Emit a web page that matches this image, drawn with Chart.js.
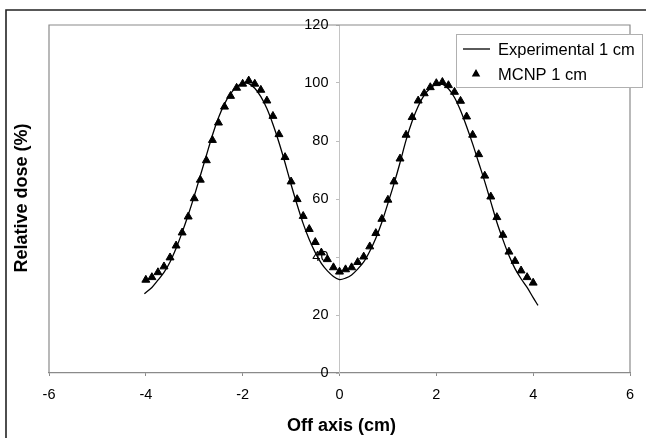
<!DOCTYPE html>
<html>
<head>
  <title>Relative dose profile</title>
  <style>
    html, body { margin: 0; padding: 0; background: #fff; }
    .chart-container { position: relative; width: 646px; height: 438px; }
  </style>
</head>
<body>
  <div class="chart-container">
    <canvas id="doseChart" width="646" height="438"></canvas>
  </div>

  <script src="https://cdn.jsdelivr.net/npm/chart.js"></script>
  <script>
    // data
    const seriesNames = ['Experimental 1 cm', 'MCNP 1 cm'];
    const xTitle = 'Off axis (cm)';
    const yTitle = 'Relative dose (%)';

    const expX = [-4.03, -3.875, -3.75, -3.625, -3.5, -3.375, -3.25, -3.125, -3, -2.875, -2.75, -2.625, -2.5,
      -2.375, -2.25, -2.125, -2, -1.875, -1.75, -1.625, -1.5, -1.375, -1.25, -1.125, -1, -0.875, -0.75, -0.625,
      -0.5, -0.375, -0.25, -0.125, 0, 0.125, 0.25, 0.375, 0.5, 0.625, 0.75, 0.875, 1, 1.125, 1.25, 1.375, 1.5,
      1.625, 1.75, 1.875, 2, 2.125, 2.25, 2.375, 2.5, 2.625, 2.75, 2.875, 3, 3.125, 3.25, 3.375, 3.5, 3.625,
      3.75, 3.875, 4, 4.1];
    const expY = [27.3, 29.5, 32, 34.7, 38.3, 43, 48.5, 54.5, 61, 68, 75, 82, 88, 92.8, 96.3, 98.7, 99.9, 99.8,
      98.2, 95.3, 91.2, 85.8, 79.5, 72.5, 65, 58, 51.5, 46, 41.5, 37.8, 35.2, 33.3, 32.2, 32.7, 33.8, 35.8, 38.3,
      42, 46.5, 52, 58.5, 65.2, 72.5, 80.3, 86.8, 92, 95.8, 98.2, 99.6, 99.6, 98, 95, 90.5, 85, 79, 72.5, 66,
      59, 52, 46, 40.5, 36, 32.5, 29.5, 26, 23.3];

    const mcnpX = [-4, -3.875, -3.75, -3.625, -3.5, -3.375, -3.25, -3.125, -3, -2.875, -2.75, -2.625, -2.5,
      -2.375, -2.25, -2.125, -2, -1.875, -1.75, -1.625, -1.5, -1.375, -1.25, -1.125, -1, -0.875, -0.75, -0.625,
      -0.5, -0.375, -0.25, -0.125, 0, 0.125, 0.25, 0.375, 0.5, 0.625, 0.75, 0.875, 1, 1.125, 1.25, 1.375, 1.5,
      1.625, 1.75, 1.875, 2, 2.125, 2.25, 2.375, 2.5, 2.625, 2.75, 2.875, 3, 3.125, 3.25, 3.375, 3.5, 3.625,
      3.75, 3.875, 4];
    const mcnpY = [32.1, 33, 34.7, 36.7, 39.8, 43.9, 48.4, 53.9, 60.2, 66.6, 73.3, 80.3, 86.3, 91.8, 95.5, 98.3,
      99.7, 100.8, 99.7, 97.6, 93.9, 88.6, 82.3, 74.4, 66, 59.9, 54.1, 49.6, 45.1, 41.5, 39.2, 36.4, 34.9, 35.7,
      36.4, 38.2, 40.1, 43.6, 48.2, 53.1, 59.7, 66, 73.9, 82.1, 88.2, 93.9, 96.4, 98.5, 99.9, 100.3, 99.2, 96.9,
      93.8, 88.4, 82.1, 75.4, 68, 60.8, 53.7, 47.6, 41.8, 38.6, 35.3, 33, 31.1];

    const xTicks = { min: -6, max: 6, step: 2 };
    const yTicks = { min: 0, max: 120, step: 20 };

    const FONT = '"Liberation Sans", Arial, sans-serif';

    function toPoints(xs, ys) {
      return xs.map((x, i) => ({ x: x, y: ys[i] }));
    }

    // outer frame, plot border, y tick labels, axis titles and the boxed legend
    const decorations = {
      id: 'decorations',
      beforeDatasetsDraw(chart) {
        const ctx = chart.ctx;
        const a = chart.chartArea;
        const xs = chart.scales.x, ys = chart.scales.y;
        ctx.save();
        ctx.strokeStyle = '#8a8a8a';
        ctx.lineWidth = 1.2;
        ctx.beginPath();
        ctx.moveTo(a.left, a.bottom);
        ctx.lineTo(a.left, a.top);
        ctx.lineTo(a.right, a.top);
        ctx.lineTo(a.right, a.bottom);
        ctx.stroke();

        // y labels sit left of the axis that crosses at x = 0
        const axisX = xs.getPixelForValue(0);
        ctx.fillStyle = '#000';
        ctx.font = '14.5px ' + FONT;
        ctx.textAlign = 'right';
        ctx.textBaseline = 'middle';
        ys.ticks.forEach(t => {
          ctx.fillText(String(t.value), axisX - 11, ys.getPixelForValue(t.value));
        });
        ctx.restore();
      },
      afterDraw(chart) {
        const ctx = chart.ctx;
        const a = chart.chartArea;
        ctx.save();

        // frame round the figure
        ctx.strokeStyle = '#222';
        ctx.lineWidth = 1.6;
        ctx.beginPath();
        ctx.moveTo(6, chart.height);
        ctx.lineTo(6, 10);
        ctx.lineTo(chart.width, 10);
        ctx.stroke();

        // axis titles
        ctx.fillStyle = '#000';
        ctx.font = 'bold 18px ' + FONT;
        ctx.textAlign = 'center';
        ctx.textBaseline = 'middle';
        ctx.fillText(xTitle, (a.left + a.right) / 2 + 2, 426);
        ctx.save();
        ctx.translate(22, 198);
        ctx.rotate(-Math.PI / 2);
        ctx.fillText(yTitle, 0, 0);
        ctx.restore();

        // legend
        const lx = 456, ly = 34, lw = 186, lh = 53;
        ctx.fillStyle = '#fff';
        ctx.fillRect(lx, ly, lw, lh);
        ctx.strokeStyle = '#b0b0b0';
        ctx.lineWidth = 1;
        ctx.strokeRect(lx + 0.5, ly + 0.5, lw, lh);

        ctx.font = '16.5px ' + FONT;
        ctx.textAlign = 'left';
        ctx.fillStyle = '#000';
        const ds = chart.data.datasets;
        // line entry
        ctx.strokeStyle = '#000';
        ctx.lineWidth = 1.3;
        ctx.beginPath();
        ctx.moveTo(lx + 7, ly + 15);
        ctx.lineTo(lx + 34, ly + 15);
        ctx.stroke();
        ctx.fillText(ds[0].label, lx + 42, ly + 16);
        // marker entry
        Chart.helpers.drawPoint(ctx, { pointStyle: 'triangle', radius: 3.6, borderWidth: 1 }, lx + 20, ly + 40);
        ctx.fillStyle = '#000';
        ctx.fill();
        ctx.fillText(ds[1].label, lx + 42, ly + 41);

        ctx.restore();
      }
    };

    const doseChart = new Chart(document.getElementById('doseChart'), {
      type: 'scatter',
      data: {
        datasets: [{
          label: seriesNames[0],
          data: toPoints(expX, expY),
          showLine: true,
          borderColor: '#000',
          borderWidth: 1.3,
          pointRadius: 0,
          tension: 0.3,
          order: 2
        }, {
          label: seriesNames[1],
          data: toPoints(mcnpX, mcnpY),
          showLine: false,
          pointStyle: 'triangle',
          pointRadius: 4.6,
          pointBorderWidth: 1,
          backgroundColor: '#000',
          borderColor: '#000',
          order: 1
        }]
      },
      options: {
        responsive: false,
        animation: false,
        layout: { padding: { left: 49, right: 16, top: 25, bottom: 0 } },
        plugins: {
          legend: { display: false },
          tooltip: { enabled: false }
        },
        scales: {
          x: {
            type: 'linear',
            position: 'bottom',
            min: xTicks.min,
            max: xTicks.max,
            ticks: { stepSize: xTicks.step, color: '#000', padding: 10, font: { family: FONT, size: 14.5 } },
            grid: { drawOnChartArea: false, tickLength: 3, color: '#8a8a8a' },
            border: { color: '#8a8a8a', width: 1.2 },
            afterFit(scale) { scale.height = 65; }
          },
          y: {
            type: 'linear',
            position: { x: 0 },
            min: yTicks.min,
            max: yTicks.max,
            ticks: { stepSize: yTicks.step, display: false },
            grid: { drawOnChartArea: false, tickLength: 3, color: '#bdbdbd' },
            border: { color: '#c4c4c4', width: 1 }
          }
        }
      },
      plugins: [decorations]
    });
  </script>
</body>
</html>
